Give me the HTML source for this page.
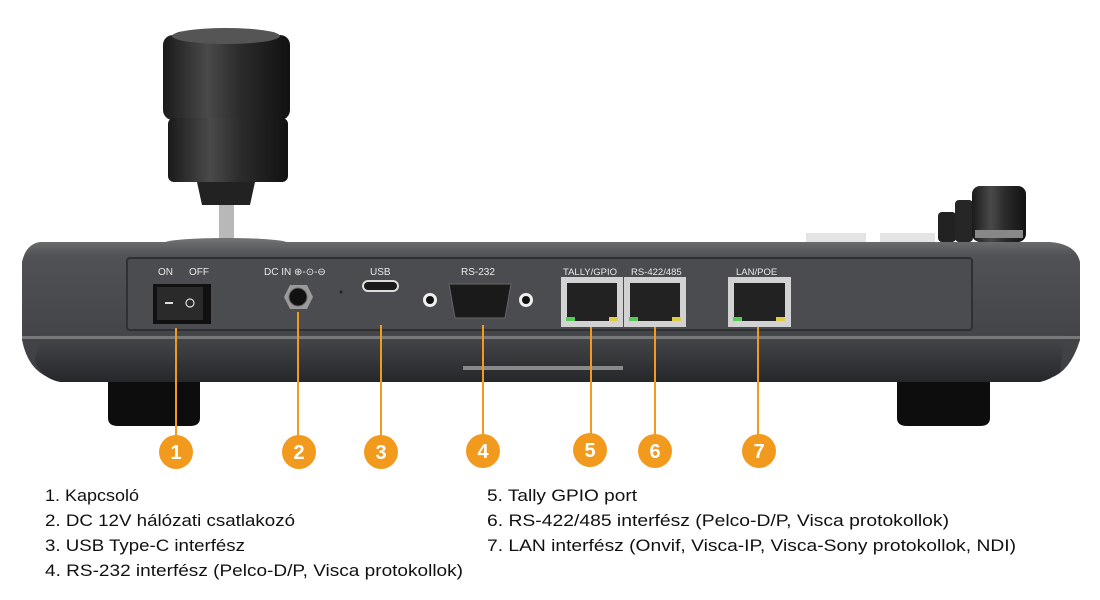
<!DOCTYPE html>
<html><head><meta charset="utf-8"><style>
html,body{margin:0;padding:0;background:#fff;width:1100px;height:600px;overflow:hidden}
svg{display:block}
text{font-family:"Liberation Sans",sans-serif}
</style></head><body>
<svg width="1100" height="600" viewBox="0 0 1100 600" xmlns="http://www.w3.org/2000/svg">
<defs>
<linearGradient id="knob" x1="0" x2="1"><stop offset="0" stop-color="#1a1a1a"/><stop offset="0.35" stop-color="#4a4a4a"/><stop offset="0.6" stop-color="#2c2c2c"/><stop offset="1" stop-color="#111"/></linearGradient>
<linearGradient id="body" x1="0" y1="0" x2="0" y2="1"><stop offset="0" stop-color="#6a6b6d"/><stop offset="0.1" stop-color="#505255"/><stop offset="1" stop-color="#3c3e41"/></linearGradient>
<linearGradient id="low" x1="0" y1="0" x2="0" y2="1"><stop offset="0" stop-color="#46484b"/><stop offset="1" stop-color="#26272a"/></linearGradient>
</defs>
<!-- joystick -->
<rect x="163" y="35" width="127" height="85" rx="10" fill="url(#knob)"/>
<ellipse cx="226" cy="36" rx="54" ry="8" fill="#555"/>
<rect x="168" y="118" width="120" height="64" rx="6" fill="url(#knob)"/>
<path d="M197 182 L255 182 L250 205 L202 205 Z" fill="#222"/>
<rect x="219" y="205" width="15" height="38" fill="#b8b8b8"/>
<ellipse cx="226" cy="243" rx="62" ry="5" fill="#6f7072"/>
<!-- right knobs -->
<rect x="938" y="212" width="18" height="30" rx="4" fill="#222"/>
<rect x="955" y="200" width="18" height="42" rx="4" fill="#262626"/>
<rect x="972" y="186" width="54" height="56" rx="8" fill="url(#knob)"/>
<rect x="975" y="230" width="48" height="8" fill="#888"/>
<rect x="806" y="233" width="60" height="10" fill="#e4e4e4"/>
<rect x="880" y="233" width="55" height="10" fill="#e4e4e4"/>
<!-- feet -->
<path d="M108 362 L200 362 L200 418 Q200 426 190 426 L118 426 Q108 426 108 418 Z" fill="#0d0d0d"/>
<path d="M897 362 L990 362 L990 418 Q990 426 980 426 L907 426 Q897 426 897 418 Z" fill="#0d0d0d"/>
<!-- body -->
<path d="M40 242 L1050 242 Q1076 244 1080 262 L1080 340 Q1070 372 1050 378 L50 378 Q28 370 22 340 L22 262 Q26 244 40 242 Z" fill="url(#body)"/>
<path d="M40 335 L1065 335 L1060 372 Q1050 380 1040 382 L60 382 Q40 378 35 360 Z" fill="url(#low)"/>
<rect x="22" y="336" width="1058" height="3" fill="#76787a"/>
<rect x="127" y="258" width="845" height="72" rx="3" fill="#4a4c4f" stroke="#2f3032" stroke-width="2"/>
<rect x="463" y="366" width="160" height="4" fill="#8a8a8a"/>
<!-- labels on panel -->
<g fill="#e8e8e8" font-size="10">
<text x="158" y="275">ON</text><text x="189" y="275">OFF</text>
<text x="264" y="275">DC IN ⊕-⊙-⊖</text>
<text x="370" y="275">USB</text>
<text x="461" y="275">RS-232</text>
<text x="563" y="275" font-size="9.5">TALLY/GPIO</text>
<text x="631" y="275" font-size="9.5">RS-422/485</text>
<text x="736" y="275" font-size="9.5">LAN/POE</text>
</g>
<!-- switch -->
<rect x="153" y="284" width="58" height="40" fill="#111"/>
<rect x="157" y="287" width="46" height="33" fill="#2a2a2a"/>
<rect x="165" y="302" width="8" height="2" fill="#ddd"/>
<circle cx="190" cy="303" r="4" fill="none" stroke="#ddd" stroke-width="1.2"/>
<!-- dc jack -->
<polygon points="284,297 290,285 307,285 313,297 307,309 290,309" fill="#9a9a9a"/>
<circle cx="298" cy="297" r="9" fill="#111" stroke="#666"/>
<circle cx="341" cy="292" r="1.5" fill="#222"/>
<!-- usb -->
<rect x="363" y="281" width="35" height="10" rx="5" fill="#1a1a1a" stroke="#ddd" stroke-width="2"/>
<!-- rs232 -->
<circle cx="430" cy="300" r="7" fill="#eee"/><circle cx="430" cy="300" r="4" fill="#111"/>
<circle cx="526" cy="300" r="7" fill="#eee"/><circle cx="526" cy="300" r="4" fill="#111"/>
<path d="M449 284 L511 284 L505 318 L455 318 Z" fill="#1a1a1a" stroke="#666"/>
<!-- rj45 -->
<g>
<rect x="561" y="277" width="62" height="50" fill="#d2d2d2"/><rect x="567" y="283" width="50" height="38" fill="#222"/>
<rect x="566" y="317" width="9" height="4" fill="#5c5"/><rect x="609" y="317" width="9" height="4" fill="#dc4"/>
<rect x="624" y="277" width="62" height="50" fill="#d2d2d2"/><rect x="630" y="283" width="50" height="38" fill="#222"/>
<rect x="629" y="317" width="9" height="4" fill="#5c5"/><rect x="672" y="317" width="9" height="4" fill="#dc4"/>
<rect x="728" y="277" width="63" height="50" fill="#d2d2d2"/><rect x="734" y="283" width="51" height="38" fill="#222"/>
<rect x="733" y="317" width="9" height="4" fill="#5c5"/><rect x="776" y="317" width="9" height="4" fill="#dc4"/>
</g>
<!-- leader lines -->
<g stroke="#f29a1e" stroke-width="2">
<line x1="176" y1="328" x2="176" y2="438"/>
<line x1="298" y1="312" x2="298" y2="438"/>
<line x1="381" y1="325" x2="381" y2="438"/>
<line x1="483" y1="325" x2="483" y2="438"/>
<line x1="591" y1="327" x2="591" y2="438"/>
<line x1="655" y1="327" x2="655" y2="438"/>
<line x1="758" y1="327" x2="758" y2="438"/>
</g>
<g fill="#f29a1e">
<circle cx="176" cy="452" r="17"/><circle cx="299" cy="452" r="17"/><circle cx="381" cy="452" r="17"/>
<circle cx="483" cy="451" r="17"/><circle cx="590" cy="450" r="17"/><circle cx="655" cy="451" r="17"/><circle cx="759" cy="451" r="17"/>
</g>
<g fill="#fff" font-size="20" font-weight="bold" text-anchor="middle">
<text x="176" y="459">1</text><text x="299" y="459">2</text><text x="381" y="459">3</text><text x="483" y="458">4</text><text x="590" y="457">5</text><text x="655" y="458">6</text><text x="759" y="458">7</text>
</g>
<!-- list -->
<g fill="#111" font-size="17">
<text x="45" y="501" textLength="94" lengthAdjust="spacingAndGlyphs">1. Kapcsoló</text>
<text x="45" y="526" textLength="250" lengthAdjust="spacingAndGlyphs">2. DC 12V hálózati csatlakozó</text>
<text x="45" y="551" textLength="200" lengthAdjust="spacingAndGlyphs">3. USB Type-C interfész</text>
<text x="45" y="576" textLength="418" lengthAdjust="spacingAndGlyphs">4. RS-232 interfész (Pelco-D/P, Visca protokollok)</text>
<text x="487" y="501" textLength="150" lengthAdjust="spacingAndGlyphs">5. Tally GPIO port</text>
<text x="487" y="526" textLength="462" lengthAdjust="spacingAndGlyphs">6. RS-422/485 interfész (Pelco-D/P, Visca protokollok)</text>
<text x="487" y="551" textLength="529" lengthAdjust="spacingAndGlyphs">7. LAN interfész (Onvif, Visca-IP, Visca-Sony protokollok, NDI)</text>
</g>
</svg>
</body></html>
